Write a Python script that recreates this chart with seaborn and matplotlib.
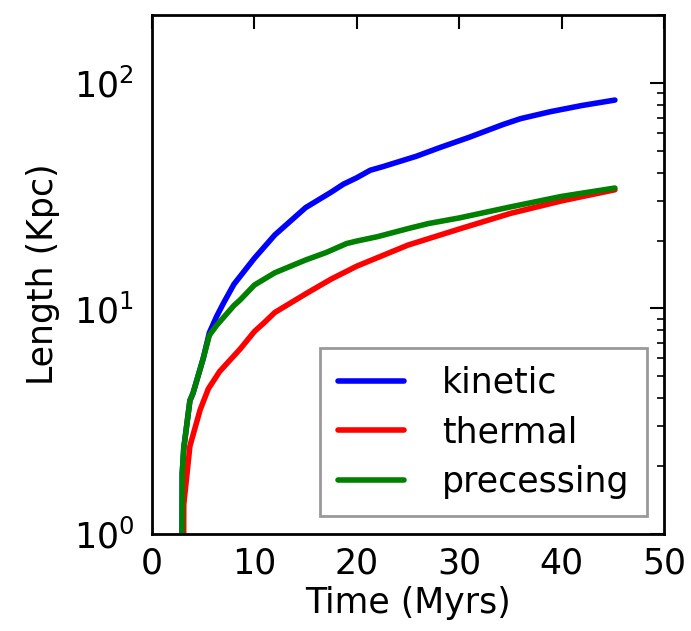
import numpy as np
import pandas as pd
import seaborn as sns
import matplotlib
matplotlib.use("Agg")
import matplotlib.pyplot as plt
from matplotlib.ticker import LogLocator, NullFormatter

sns.set_style("white")
plt.rcParams['font.family'] = ['DejaVu Sans']
plt.rcParams['mathtext.fontset'] = 'dejavusans'
plt.rcParams['text.color'] = 'black'
plt.rcParams['axes.labelcolor'] = 'black'
plt.rcParams['xtick.color'] = 'black'
plt.rcParams['ytick.color'] = 'black'

# Data
kinetic_t = [2.9, 2.95, 3.1, 3.7, 4.0, 5.0, 5.6, 6.3, 7.0, 8.0, 10.0, 12.0, 15.0, 17.5, 18.7, 20.0, 21.3, 22.5, 25.8, 28.0, 31.0, 34.3, 36.0, 38.9, 42.0, 45.2]
kinetic_v = [0.3, 1.85, 2.4, 3.9, 4.2, 6.0, 7.8, 9.2, 10.6, 12.8, 16.7, 21.2, 28.0, 32.8, 35.6, 38.0, 41.0, 42.5, 47.3, 51.5, 57.5, 65.5, 69.5, 74.6, 79.5, 84.0]

thermal_t = [3.05, 3.1, 3.7, 4.7, 5.5, 6.6, 8.6, 10.0, 10.9, 12.0, 15.0, 17.5, 20.0, 25.0, 30.0, 35.0, 40.0, 45.2]
thermal_v = [0.3, 1.35, 2.45, 3.55, 4.4, 5.25, 6.6, 7.9, 8.6, 9.6, 11.6, 13.5, 15.4, 19.1, 22.5, 26.4, 30.0, 33.6]

precessing_t = [2.9, 2.95, 3.1, 3.7, 4.0, 5.0, 5.6, 6.3, 8.0, 8.6, 10.0, 12.0, 15.0, 17.0, 19.0, 20.0, 22.0, 25.0, 27.0, 30.0, 35.0, 40.0, 45.2]
precessing_v = [0.3, 1.85, 2.4, 3.9, 4.2, 6.0, 7.6, 8.4, 10.3, 10.9, 12.7, 14.4, 16.4, 17.7, 19.4, 19.9, 20.8, 22.6, 23.8, 25.2, 28.2, 31.4, 34.2]

df = pd.concat([
    pd.DataFrame({"Time": kinetic_t, "Length": kinetic_v, "model": "kinetic"}),
    pd.DataFrame({"Time": thermal_t, "Length": thermal_v, "model": "thermal"}),
    pd.DataFrame({"Time": precessing_t, "Length": precessing_v, "model": "precessing"}),
])

fig = plt.figure(figsize=(6.91, 6.31), dpi=100)
ax = fig.add_axes([0.22, 0.154, 0.741, 0.822])

palette = {"kinetic": "#0000ff", "thermal": "#ff0000", "precessing": "#008000"}
sns.lineplot(data=df, x="Time", y="Length", hue="model", palette=palette,
             hue_order=["kinetic", "thermal", "precessing"],
             linewidth=4, ax=ax, estimator=None, sort=False)

ax.set_yscale("log")
ax.set_xlim(0, 50)
ax.set_ylim(1, 200)
ax.set_xticks([0, 10, 20, 30, 40, 50])
ax.yaxis.set_major_locator(LogLocator(base=10, numticks=10))
ax.yaxis.set_minor_locator(LogLocator(base=10, subs=np.arange(2, 10), numticks=20))
ax.yaxis.set_minor_formatter(NullFormatter())

ax.set_xlabel("Time (Myrs)", fontsize=25, labelpad=4)
ax.set_ylabel("Length (Kpc)", fontsize=25, labelpad=10)
ax.tick_params(axis="both", which="major", direction="in", length=10, width=1.5,
               top=True, right=True, labelsize=25)
ax.tick_params(axis="x", which="major", pad=9)
ax.tick_params(axis="y", which="major", pad=13)
ax.tick_params(axis="both", which="minor", direction="in", length=5, width=1.2,
               top=True, right=True)
for s in ax.spines.values():
    s.set_linewidth(2)
    s.set_color("black")

leg = ax.legend(loc="lower right", fontsize=25, frameon=True, fancybox=False,
                handlelength=1.9, handletextpad=1.1, borderpad=0.5,
                labelspacing=0.45, borderaxespad=0.5)
leg.get_frame().set_edgecolor("#808080")
leg.get_frame().set_linewidth(2)
for line in leg.get_lines():
    line.set_linewidth(4)

fig.savefig("out.png", dpi=100)
